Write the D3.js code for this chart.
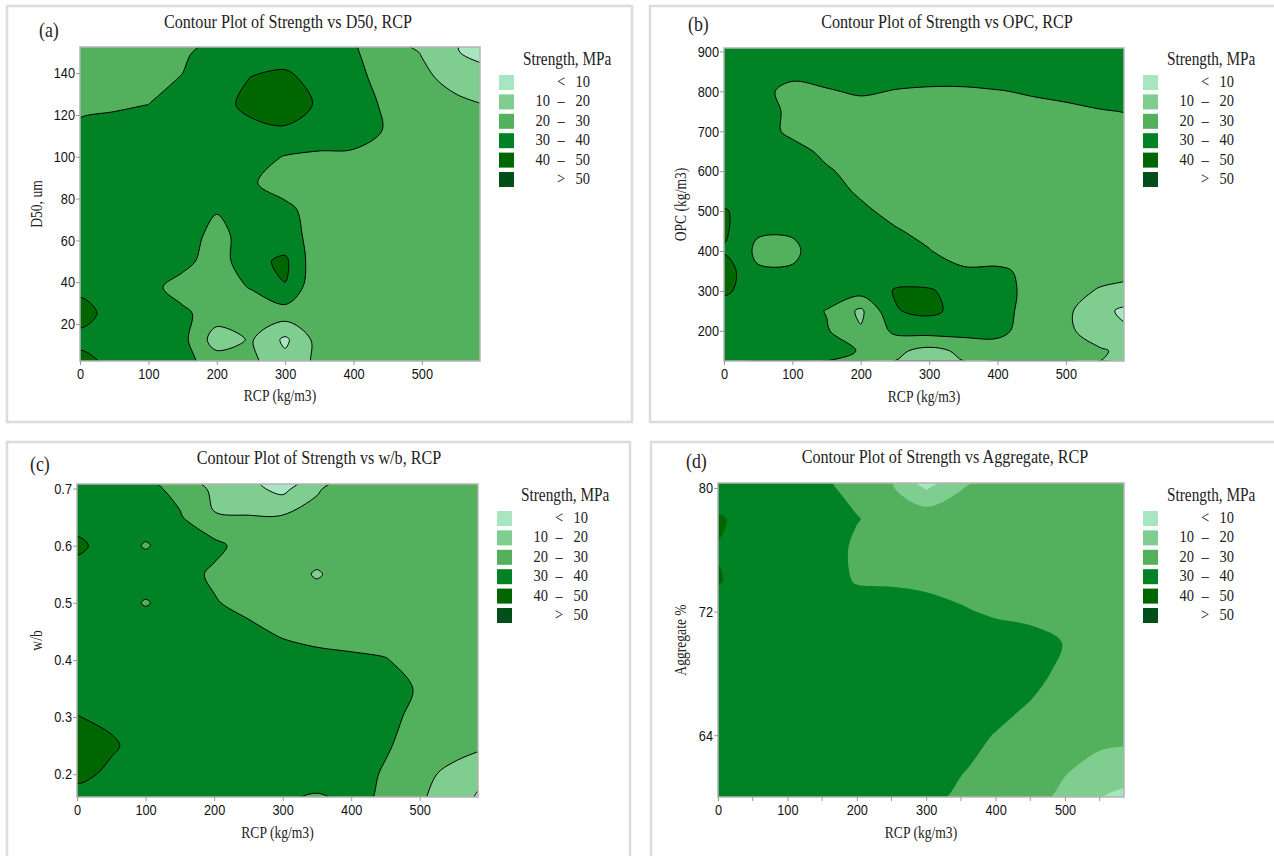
<!DOCTYPE html>
<meta charset="utf-8">
<style>
  body { margin: 0; background: #fff; }
  svg { font-family: "Liberation Serif", "Times New Roman", serif; }
</style>
<svg width="1274" height="856"></svg>
<script src="https://d3js.org/d3.v7.min.js"></script>
<script>

// strength bands (MPa) and legend
var thresholds = [10, 20, 30, 40, 50];
var bandColors = ["#a8e6c2", "#7fcd8f", "#53b05d", "#008225", "#006700", "#004e18"];
var legendTitle = "Strength, MPa";
var legendLow  = ["", "10", "20", "30", "40", ""];
var legendSign = ["<", "\u2013", "\u2013", "\u2013", "\u2013", ">"];
var legendHigh = ["10", "20", "30", "40", "50", "50"];

// RCP (kg/m3) grid columns, shared by all four plots
var rcpGrid = [0, 50, 100, 150, 200, 250, 300, 350, 400, 450, 500, 550, 600];
var rcpTicks = [0, 100, 200, 300, 400, 500];
var rcpMinor = [50, 150, 250, 350, 450, 550];

// (a) D50, um  (rows from top to bottom)
var d50Grid = [150, 137.5, 125, 112.5, 100, 87.5, 75, 62.5, 50, 37.5, 25, 12.5, 0];
var d50Ticks = [20, 40, 60, 80, 100, 120, 140];
var d50Strength = [
  [25, 25, 25, 28, 35, 37, 37, 36, 31, 25, 19.5, 10.5, 6],
  [25, 26, 27, 30.5, 36, 40.2, 41.5, 37.5, 33, 26, 22, 17, 13],
  [27, 28.5, 30, 33, 37.5, 42, 44, 39, 35, 28, 24, 22, 19.5],
  [33, 34, 35, 36, 37, 38, 39, 37, 35, 29, 26, 25, 24],
  [35, 36, 37, 37, 36, 34, 29.5, 28, 28, 27, 26, 25, 25],
  [36, 37, 38, 37, 35, 31, 26, 25, 25, 25, 25, 25, 25],
  [37, 37, 37, 36, 31, 34, 32, 26, 25, 25, 25, 25, 25],
  [37, 37, 37, 36, 26, 36, 33, 27, 25, 25, 25, 25, 25],
  [37, 37, 36, 33, 25, 37, 42, 22, 25, 25, 25, 25, 25],
  [37, 37, 33, 26, 26, 30.5, 39.5, 21, 25, 25, 25, 25, 25],
  [45, 35, 36, 32, 25, 24, 25, 25, 25, 25, 25, 25, 25],
  [36, 37, 36, 33, 15, 21, 8, 24, 25, 25, 25, 25, 25],
  [46, 36, 35, 32, 27, 22, 14, 22, 25, 25, 25, 25, 25]
];

// (b) OPC (kg/m3)
var opcGrid = [900, 850, 800, 750, 700, 650, 600, 550, 500, 450, 400, 350, 300, 250, 200, 150];
var opcTicks = [200, 300, 400, 500, 600, 700, 800, 900];
var opcStrength = [
  [36, 36, 36, 36, 36, 36, 36, 36, 36, 36, 36, 36, 36],
  [36, 36, 33, 35, 36, 35, 35, 35, 36, 36, 36, 36, 36],
  [36, 33, 27, 29, 31.5, 29.5, 28.5, 28.5, 29.5, 31, 33, 34, 35],
  [36, 34, 28, 25, 25, 25, 25, 25, 26, 27, 27.5, 29.5, 30.5],
  [36, 34, 28, 27, 26, 25, 25, 25, 25, 25, 25, 26, 27],
  [36, 36, 33, 28, 26, 25, 25, 25, 25, 25, 25, 25, 26],
  [37, 37, 35, 31, 27, 25, 25, 25, 25, 25, 25, 25, 25],
  [37, 37, 36, 34, 28.5, 26, 25, 25, 25, 25, 25, 25, 25],
  [40.5, 37, 37, 36, 32, 27, 25, 25, 25, 25, 25, 25, 25],
  [41.5, 31, 31, 37, 35, 31, 27, 25, 25, 25, 25, 25, 25],
  [39, 28, 28, 36, 37, 36, 30.5, 25, 25, 25, 25, 25, 25],
  [45, 31, 31, 36, 37, 37, 34, 31.5, 31.5, 28, 25, 24, 22],
  [41, 37, 37, 36, 34, 40.5, 41, 36, 34, 27, 24, 19, 17],
  [37, 37, 36, 29.5, 18, 39.5, 42, 37, 34, 26, 22, 13, 6],
  [37, 37, 36, 31, 21, 32, 34, 34, 33, 25, 22, 15, 10.5],
  [37, 37, 36, 33, 29.5, 22, 17, 22, 25, 25, 24, 21, 17]
];

// (c) w/b
var wbGrid = [0.70, 0.65, 0.60, 0.55, 0.50, 0.45, 0.40, 0.35, 0.30, 0.25, 0.20, 0.15];
var wbTicks = [0.2, 0.3, 0.4, 0.5, 0.6, 0.7];
var wbStrength = [
  [36, 36, 33, 27, 18, 13, 7, 19, 25, 25, 25, 25, 25],
  [37, 37, 36, 31, 20.5, 20.5, 21, 23, 25, 25, 25, 25, 25],
  [41.5, 37, 29, 36, 33, 25, 25, 25, 25, 25, 25, 25, 25],
  [37, 37, 37, 35, 28, 25, 25, 19, 25, 25, 25, 25, 25],
  [37, 37, 29, 36, 31, 26, 25, 25, 25, 25, 25, 25, 25],
  [37, 37, 37, 37, 36, 33, 28, 25, 25, 25, 25, 25, 25],
  [37, 37, 37, 37, 37, 37, 36, 34, 32, 30.5, 26, 25, 25],
  [37, 37, 37, 37, 37, 37, 37, 37, 36, 34, 29, 25, 25],
  [40.2, 38.5, 37, 37, 37, 37, 37, 37, 36, 33, 27, 25, 25],
  [46, 41, 37, 37, 37, 37, 37, 37, 35, 31, 26, 24, 21],
  [42, 38.5, 37, 37, 37, 37, 37, 36, 34, 29, 23, 17, 11],
  [36, 37, 37, 37, 37, 37, 31, 27, 32, 28.5, 21, 14, 5]
];

// (d) Aggregate %
var aggGrid = [80, 78, 76, 74, 72, 70, 68, 66, 64, 62, 60];
var aggTicks = [64, 72, 80];
var aggStrength = [
  [34, 36, 36, 32, 27, 21, 9, 19.5, 25, 25, 25, 25, 25],
  [41, 37, 37, 36, 30.5, 26, 27, 25, 25, 25, 25, 25, 25],
  [39.5, 37, 37, 36, 28, 25, 25, 25, 25, 25, 25, 25, 25],
  [40.5, 37, 37, 36, 29, 28, 27, 25, 25, 25, 25, 25, 25],
  [37, 37, 37, 37, 37, 38, 35, 31.5, 28, 26, 25, 25, 25],
  [37, 37, 37, 37, 37, 37, 37, 37, 37, 35, 29.5, 25, 25],
  [37, 37, 37, 37, 37, 37, 37, 37, 37, 34, 27, 25, 25],
  [37, 37, 37, 37, 37, 37, 37, 37, 34, 29.5, 25, 25, 25],
  [37, 37, 37, 37, 37, 37, 37, 34, 29.5, 26, 25, 22, 22],
  [37, 37, 37, 37, 37, 37, 35, 31, 27, 25, 21, 18, 15],
  [37, 37, 37, 37, 37, 37, 33, 28, 25, 23, 18, 10.5, 6]
];

var panels = [
  { tag: "(a)", title: "Contour Plot of Strength vs D50, RCP", yLabel: "D50, um",
    yGrid: d50Grid, z: d50Strength, yTicks: d50Ticks, fmt: d3.format("d"), yDomain: [2.3, 152.5],
    box: [7, 6, 625, 416], plot: [80, 47, 400, 314],
    titleX: 288, titleY: 28, tagX: 39, tagY: 37, xLabY: 401, yLabX: 36, lines: true, minor: false },
  { tag: "(b)", title: "Contour Plot of Strength vs OPC, RCP", yLabel: "OPC (kg/m3)",
    yGrid: opcGrid, z: opcStrength, yTicks: opcTicks, fmt: d3.format("d"), yDomain: [124.5, 908.5],
    box: [650, 6, 640, 416], plot: [724, 48, 400, 313],
    titleX: 947, titleY: 28, tagX: 688, tagY: 31, xLabY: 402, yLabX: 680, lines: true, minor: false },
  { tag: "(c)", title: "Contour Plot of Strength vs w/b, RCP", yLabel: "w/b",
    yGrid: wbGrid, z: wbStrength, yTicks: wbTicks, fmt: d3.format(".1f"), yDomain: [0.16, 0.708],
    box: [7, 442, 623, 430], plot: [77, 484, 401, 313],
    titleX: 319, titleY: 464, tagX: 30, tagY: 471, xLabY: 838, yLabX: 36, lines: true, minor: false },
  { tag: "(d)", title: "Contour Plot of Strength vs Aggregate, RCP", yLabel: "Aggregate %",
    yGrid: aggGrid, z: aggStrength, yTicks: aggTicks, fmt: d3.format("d"), yDomain: [60.0, 80.32],
    box: [651, 442, 640, 430], plot: [718, 483, 406, 314],
    titleX: 945, titleY: 463, tagX: 686, tagY: 468, xLabY: 838, yLabX: 680, lines: false, minor: true }
];

var svg = d3.select("svg");
var defs = svg.append("defs");
var ring = d3.line().curve(d3.curveCatmullRomClosed.alpha(0.5));

panels.forEach(function(p, k) {
  var g = svg.append("g");
  var px = p.plot[0], py = p.plot[1], pw = p.plot[2], ph = p.plot[3];

  g.append("rect")
      .attr("x", p.box[0]).attr("y", p.box[1])
      .attr("width", p.box[2]).attr("height", p.box[3])
      .attr("fill", "none").attr("stroke", "#dcdcdc").attr("stroke-width", 2.5);

  var x = d3.scaleLinear().domain([0, 585]).range([px, px + pw]);
  var y = d3.scaleLinear().domain(p.yDomain).range([py + ph, py]);

  // grid -> contour bands
  var nx = rcpGrid.length, ny = p.yGrid.length;
  var dx = rcpGrid[1] - rcpGrid[0], dy = p.yGrid[1] - p.yGrid[0];
  var contours = d3.contours().size([nx, ny]).thresholds(thresholds)(d3.merge(p.z));

  // grid coords -> pixels, drawn as rounded rings
  function toPath(mp) {
    var s = "";
    mp.coordinates.forEach(function(poly) {
      poly.forEach(function(r) {
        var pts = r.slice(0, -1).map(function(c) {
          return [x(rcpGrid[0] + (c[0] - 0.5) * dx), y(p.yGrid[0] + (c[1] - 0.5) * dy)];
        });
        if (pts.length > 2) s += ring(pts);
      });
    });
    return s;
  }

  defs.append("clipPath").attr("id", "clip" + k)
    .append("rect").attr("x", px).attr("y", py).attr("width", pw).attr("height", ph);

  var plot = g.append("g").attr("clip-path", "url(#clip" + k + ")");
  plot.append("rect").attr("x", px).attr("y", py).attr("width", pw).attr("height", ph)
      .attr("fill", bandColors[0]);
  plot.selectAll("path")
    .data(contours)
    .enter().append("path")
      .attr("d", toPath)
      .attr("fill", function(d, i) { return bandColors[i + 1]; })
      .attr("stroke", p.lines ? "#000" : "none")
      .attr("stroke-width", 1);

  g.append("rect").attr("x", px).attr("y", py).attr("width", pw).attr("height", ph)
      .attr("fill", "none").attr("stroke", "#b4b4b4").attr("stroke-width", 1.5);

  // axes
  var xAxis = g.append("g").attr("transform", "translate(0," + (py + ph) + ")")
      .call(d3.axisBottom(x).tickValues(rcpTicks).tickSize(4).tickPadding(3).tickFormat(d3.format("d")));
  var yAxis = g.append("g").attr("transform", "translate(" + px + ",0)")
      .call(d3.axisLeft(y).tickValues(p.yTicks).tickSize(4).tickPadding(1).tickFormat(p.fmt));
  if (p.minor) {
    xAxis.selectAll(".minor").data(rcpMinor).enter().append("line")
        .attr("x1", x).attr("x2", x).attr("y2", 4).attr("stroke", "#999");
  }
  [xAxis, yAxis].forEach(function(a) {
    a.select(".domain").remove();
    a.selectAll("line").attr("stroke", "#999");
    a.selectAll("text").attr("font-family", null).attr("font-size", 15).attr("fill", "#111");
  });

  g.append("text").attr("x", p.titleX).attr("y", p.titleY).attr("text-anchor", "middle")
      .attr("font-size", 19).attr("fill", "#222").text(p.title);
  g.append("text").attr("x", p.tagX).attr("y", p.tagY)
      .attr("font-size", 21).attr("fill", "#222").text(p.tag);
  g.append("text").attr("x", px + pw / 2).attr("y", p.xLabY).attr("text-anchor", "middle")
      .attr("font-size", 16).attr("fill", "#222").text("RCP (kg/m3)");
  g.append("text").attr("transform", "translate(" + p.yLabX + "," + (py + ph / 2) + ")rotate(-90)")
      .attr("text-anchor", "middle").attr("dy", "0.35em")
      .attr("font-size", 16).attr("fill", "#222").text(p.yLabel);

  // legend
  var lx = px + pw + 19, ly = p.box[1] + 59;
  g.append("text").attr("x", lx + 24).attr("y", ly)
      .attr("font-size", 18).attr("fill", "#222").text(legendTitle);
  var row = g.selectAll(".row")
    .data(bandColors)
    .enter().append("g")
      .attr("transform", function(d, i) { return "translate(" + lx + "," + (ly + 10 + i * 19.4) + ")"; });
  row.append("rect").attr("width", 15).attr("height", 15).attr("fill", function(d) { return d; });
  row.append("text").attr("x", 51).attr("y", 12).attr("text-anchor", "end")
      .attr("font-size", 17).attr("fill", "#222").text(function(d, i) { return legendLow[i]; });
  row.append("text").attr("x", 62).attr("y", 12).attr("text-anchor", "middle")
      .attr("font-size", 17).attr("fill", "#222").text(function(d, i) { return legendSign[i]; });
  row.append("text").attr("x", 91).attr("y", 12).attr("text-anchor", "end")
      .attr("font-size", 17).attr("fill", "#222").text(function(d, i) { return legendHigh[i]; });
});

// the reference type is narrow; squeeze every label horizontally
svg.selectAll("text").each(function() {
  var w = this.getComputedTextLength();
  if (w > 0) d3.select(this).attr("textLength", w * 0.85).attr("lengthAdjust", "spacingAndGlyphs");
});

</script>
